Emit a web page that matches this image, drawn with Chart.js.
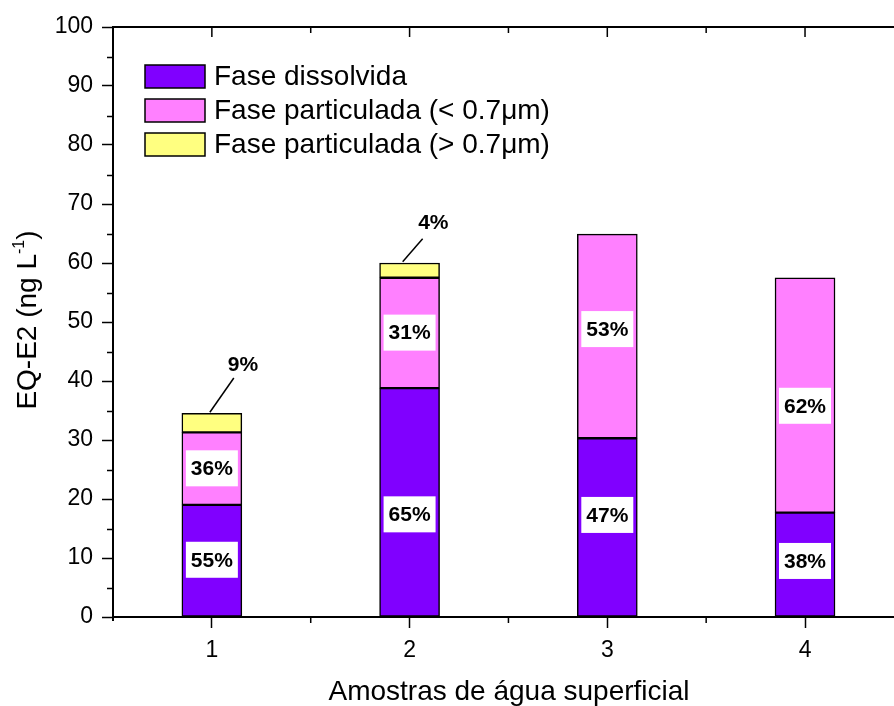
<!DOCTYPE html>
<html>
<head>
<meta charset="utf-8">
<script src="https://cdn.jsdelivr.net/npm/chart.js@4/dist/chart.umd.min.js"></script>
<style>
html,body{margin:0;padding:0;background:#fff;overflow:hidden;}
canvas{display:block;}
</style>
</head>
<body>
<canvas id="c" width="894" height="706"></canvas>
<script>
// ---- data ----
const categories = [1, 2, 3, 4];
const seriesNames = ['Fase dissolvida', 'Fase particulada (< 0.7\u03BCm)', 'Fase particulada (> 0.7\u03BCm)'];
const dissolvida = [19.0, 38.8, 30.3, 17.7];
const particuladaMenor = [12.3, 18.7, 34.6, 39.8];
const particuladaMaior = [3.2, 2.5, null, null];
const yTicks = [0, 10, 20, 30, 40, 50, 60, 70, 80, 90, 100];
// percentage labels (text) and the y value where each label sits
const pctDissolvida = ['55%', '65%', '47%', '38%'];
const pctDissolvidaY = [9.7, 17.4, 17.3, 9.5];
const pctMenor = ['36%', '31%', '53%', '62%'];
const pctMenorY = [25.2, 48.2, 48.8, 35.8];
// callouts for the small top segments: text, text position, leader line end points (data units)
const calloutText = ['9%', '4%'];
const calloutX = [1.157, 2.12];
const calloutY = [42.7, 66.8];
const leaderFromX = [1.111, 2.066];
const leaderFromY = [40.5, 64.1];
const leaderToX = [0.99, 1.965];
const leaderToY = [34.7, 60.2];

const colors = ['#8000FF', '#FF80FF', '#FFFF80'];
const FONT = 'Arial, "Liberation Sans", sans-serif';

const toPts = arr => categories.map((c, i) => ({x: c, y: arr[i]}));

const decor = {
  id: 'decor',
  afterDatasetsDraw(chart) {
    const ctx = chart.ctx, xs = chart.scales.x, ys = chart.scales.y;
    ctx.save();
    const drawBoxLabel = (txt, cx, cy) => {
      ctx.fillStyle = '#fff';
      ctx.fillRect(cx - 26, cy - 18, 52, 36);
      ctx.fillStyle = '#000';
      ctx.font = 'bold 21px ' + FONT;
      ctx.textAlign = 'center';
      ctx.textBaseline = 'middle';
      ctx.fillText(txt, cx, cy + 1);
    };
    categories.forEach((c, i) => {
      if (pctDissolvida[i]) drawBoxLabel(pctDissolvida[i], xs.getPixelForValue(c), ys.getPixelForValue(pctDissolvidaY[i]));
      if (pctMenor[i]) drawBoxLabel(pctMenor[i], xs.getPixelForValue(c), ys.getPixelForValue(pctMenorY[i]));
    });
    calloutText.forEach((t, i) => {
      ctx.strokeStyle = '#000';
      ctx.lineWidth = 1.5;
      ctx.beginPath();
      ctx.moveTo(xs.getPixelForValue(leaderFromX[i]), ys.getPixelForValue(leaderFromY[i]));
      ctx.lineTo(xs.getPixelForValue(leaderToX[i]), ys.getPixelForValue(leaderToY[i]));
      ctx.stroke();
      ctx.fillStyle = '#000';
      ctx.font = 'bold 21px ' + FONT;
      ctx.textAlign = 'center';
      ctx.textBaseline = 'middle';
      ctx.fillText(t, xs.getPixelForValue(calloutX[i]), ys.getPixelForValue(calloutY[i]));
    });
    ctx.restore();
  },
  afterDraw(chart) {
    const ctx = chart.ctx, xs = chart.scales.x, ys = chart.scales.y, a = chart.chartArea;
    ctx.save();
    ctx.strokeStyle = '#000';
    ctx.lineWidth = 2;
    ctx.beginPath();
    ctx.moveTo(a.left - 1, a.top);
    ctx.lineTo(a.right, a.top);
    ctx.moveTo(a.left, a.bottom);
    ctx.lineTo(a.left, a.bottom + 4);
    ctx.stroke();
    ctx.lineWidth = 1.5;
    ctx.beginPath();
    for (let v = 5; v < 100; v += 10) {
      const y = Math.round(ys.getPixelForValue(v)) + 0.5;
      ctx.moveTo(a.left, y); ctx.lineTo(a.left - 6, y);
    }
    categories.forEach(c => {
      const xm = xs.getPixelForValue(c + 0.5);
      if (xm < a.right) {
        ctx.moveTo(xm, a.bottom); ctx.lineTo(xm, a.bottom + 6);
        ctx.moveTo(xm, a.top); ctx.lineTo(xm, a.top + 6);
      }
      const x = xs.getPixelForValue(c);
      ctx.moveTo(x, a.top); ctx.lineTo(x, a.top + 10);
    });
    ctx.stroke();

    // legend
    ctx.font = '28px ' + FONT;
    ctx.textAlign = 'left';
    ctx.textBaseline = 'middle';
    seriesNames.forEach((n, i) => {
      const top = 65 + i * 34;
      ctx.fillStyle = colors[i];
      ctx.fillRect(145, top, 60, 23);
      ctx.lineWidth = 1.5;
      ctx.strokeStyle = '#000';
      ctx.strokeRect(145, top, 60, 23);
      ctx.fillStyle = '#000';
      ctx.fillText(n, 214, top + 12);
    });

    // x title
    ctx.font = '28px ' + FONT;
    ctx.textAlign = 'center';
    ctx.textBaseline = 'alphabetic';
    ctx.fillText('Amostras de \u00E1gua superficial', 509, 700);

    // y title with superscript
    ctx.translate(36, 320);
    ctx.rotate(-Math.PI / 2);
    const f1 = '28px ' + FONT, f2 = '16px ' + FONT;
    ctx.font = f1; const w1 = ctx.measureText('EQ-E2 (ng L').width;
    ctx.font = f2; const w2 = ctx.measureText('-1').width;
    ctx.font = f1; const w3 = ctx.measureText(')').width;
    let x0 = -(w1 + w2 + w3) / 2;
    ctx.textAlign = 'left';
    ctx.font = f1; ctx.fillText('EQ-E2 (ng L', x0, 0);
    ctx.font = f2; ctx.fillText('-1', x0 + w1, -12);
    ctx.font = f1; ctx.fillText(')', x0 + w1 + w2, 0);
    ctx.restore();
  }
};

new Chart(document.getElementById('c'), {
  type: 'bar',
  data: {
    datasets: [
      {label: seriesNames[0], data: toPts(dissolvida), backgroundColor: colors[0]},
      {label: seriesNames[1], data: toPts(particuladaMenor), backgroundColor: colors[1]},
      {label: seriesNames[2], data: toPts(particuladaMaior), backgroundColor: colors[2]}
    ].map(d => Object.assign(d, {borderColor: '#000', borderWidth: 1.5, borderSkipped: false, barThickness: 60}))
  },
  options: {
    responsive: false,
    animation: false,
    events: [],
    layout: {padding: {top: 27, right: 0, left: 0, bottom: 0}},
    plugins: {legend: {display: false}, tooltip: {enabled: false}},
    scales: {
      x: {
        type: 'linear', stacked: true, min: 0.5, max: 4.45, offset: false,
        afterBuildTicks: s => { s.ticks = categories.map(v => ({value: v})); },
        afterFit: s => { s.height = 89; },
        ticks: {font: {family: FONT, size: 23}, color: '#000', padding: 9, maxRotation: 0, autoSkip: false,
                callback: v => String(v)},
        grid: {offset: false, drawOnChartArea: false, drawTicks: true, tickLength: 11, tickWidth: 1.5, tickColor: '#000'},
        border: {display: true, color: '#000', width: 2}
      },
      y: {
        stacked: true, min: 0, max: 100,
        afterBuildTicks: s => { s.ticks = yTicks.map(v => ({value: v})); },
        afterFit: s => { s.width = 113; },
        ticks: {font: {family: FONT, size: 23}, color: '#000', padding: 9},
        grid: {drawOnChartArea: false, drawTicks: true, tickLength: 11, tickWidth: 1.5, tickColor: '#000'},
        border: {display: true, color: '#000', width: 2}
      }
    }
  },
  plugins: [decor]
});
</script>
</body>
</html>
